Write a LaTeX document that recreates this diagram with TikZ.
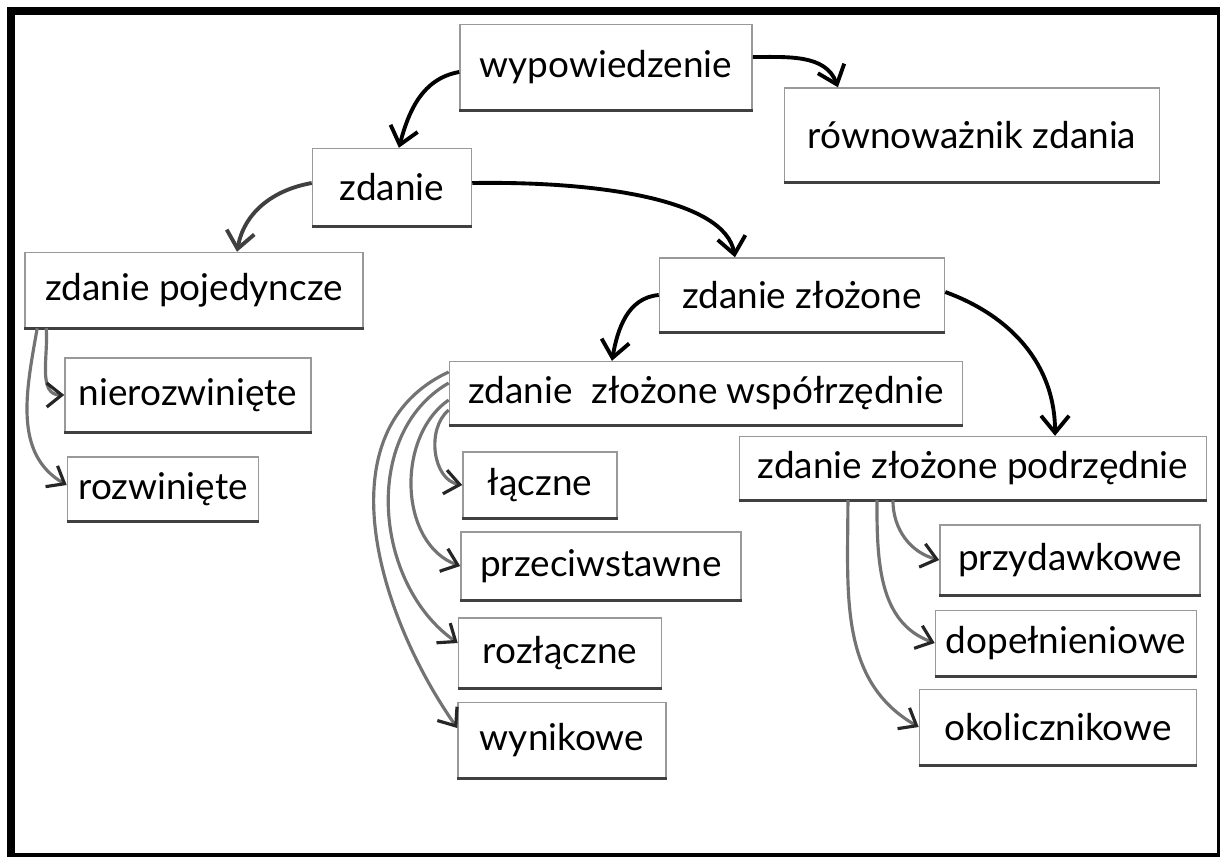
\documentclass[tikz,border=0pt]{standalone}
\usepackage{fontspec}
\setmainfont{Lato}
\usetikzlibrary{arrows.meta}

\begin{document}
\begin{tikzpicture}[
  x=0.01cm, y=-0.01cm,
  every node/.style={draw=black!40, line width=0.4pt, fill=white, minimum height=0.68cm, inner sep=2pt, font=\fontsize{10.5}{12}\selectfont},
  branch/.style={line width=1.1pt, black, -{Straight Barb[length=1.7mm,width=2.8mm]}},
  subbranch/.style={line width=0.9pt, black!55, -{Straight Barb[length=1.5mm,width=2.4mm,color=black!85]}}
  ]
  \useasboundingbox (0,0) rectangle (1220,856);
  \draw[line width=0.08cm] (11,11) rectangle (1221,857);

  \node (wyp) at (606,67) [minimum width=2.92cm, minimum height=0.85cm] {wypowiedzenie};
  \node (rown) at (972,135) [minimum width=3.75cm, minimum height=0.94cm] {równoważnik zdania};
  \node (zd) at (392,187) [minimum width=1.59cm, minimum height=0.77cm] {zdanie};
  \node (poj) at (194,290) [minimum width=3.38cm, minimum height=0.75cm] {zdanie pojedyncze};
  \node (zloz) at (802,295) [minimum width=2.85cm, minimum height=0.74cm] {zdanie złożone};
  \node (nier) at (188,395) [minimum width=2.46cm, minimum height=0.74cm] {nierozwinięte};
  \node (rozw) at (163,489) [minimum width=1.91cm, minimum height=0.64cm] {rozwinięte};
  \node (wsp) at (706,393) [minimum width=5.13cm, minimum height=0.63cm] {zdanie\ \ złożone współrzędnie};
  \node (podrz) at (973,468) [minimum width=4.67cm, minimum height=0.63cm] {zdanie złożone podrzędnie};
  \node (lacz) at (540,485) [minimum width=1.54cm, minimum height=0.66cm] {łączne};
  \node (przec) at (601,566) [minimum width=2.80cm] {przeciwstawne};
  \node (rozl) at (560,653) [minimum width=2.03cm, minimum height=0.70cm] {rozłączne};
  \node (wyn) at (562,740) [minimum width=2.08cm, minimum height=0.75cm] {wynikowe};
  \node (przyd) at (1070,560) [minimum width=2.60cm, minimum height=0.70cm] {przydawkowe};
  \node (dop) at (1066,643) [minimum width=2.61cm, minimum height=0.65cm] {dopełnieniowe};
  \node (okol) at (1058,727) [minimum width=2.77cm, minimum height=0.75cm] {okolicznikowe};

  % darker lower edges
  \foreach \n in {wyp,rown,zd,poj,zloz,nier,rozw,wsp,podrz,lacz,przec,rozl,wyn,przyd,dop,okol}
    \draw[black!75, line width=0.8pt] (\n.south west) -- (\n.south east);

  \draw[branch] ([yshift=-0.05cm]wyp.west) to[out=190, in=75] (zd.80);
  \draw[branch] ([yshift=0.1cm]wyp.east) to[out=0, in=110] ([xshift=-1.34cm]rown.north);
  \draw[branch] ([yshift=0.04cm]zd.east) .. controls +(125,-2) and +(-10,-58) .. ([xshift=-0.67cm]zloz.north);
  \draw[branch, black!75] ([yshift=0.04cm]zd.west) to[out=190, in=80] ([xshift=0.43cm]poj.north);
  \draw[branch] (zloz.west) to[out=185, in=80] ([xshift=-0.94cm]wsp.north);
  \draw[branch] ([yshift=0.03cm]zloz.east) to[out=-20, in=90] ([xshift=0.82cm]podrz.north);

  \draw[subbranch] ([xshift=0.22cm]poj.south west) to[out=-85, in=180] (nier.west);
  \draw[subbranch] ([xshift=0.13cm]poj.south west) to[out=-100, in=150] ([yshift=0.04cm]rozw.west);

  \draw[subbranch] ([yshift=-0.17cm]wsp.west) to[out=220, in=170] (lacz.west);
  \draw[subbranch] ([yshift=-0.07cm]wsp.west) to[out=215, in=160] (przec.west);
  \draw[subbranch] ([yshift=0.10cm]wsp.west) to[out=210, in=145] ([yshift=0.1cm]rozl.west);
  \draw[subbranch] ([yshift=0.21cm]wsp.west) to[out=205, in=125] ([yshift=0.12cm]wyn.west);

  \draw[subbranch] ([xshift=-0.80cm]podrz.south) to[out=-90, in=165] (przyd.west);
  \draw[subbranch] ([xshift=-0.96cm]podrz.south) to[out=-90, in=160] (dop.west);
  \draw[subbranch] ([xshift=-1.25cm]podrz.south) to[out=-90, in=150] (okol.west);
\end{tikzpicture}
\end{document}
